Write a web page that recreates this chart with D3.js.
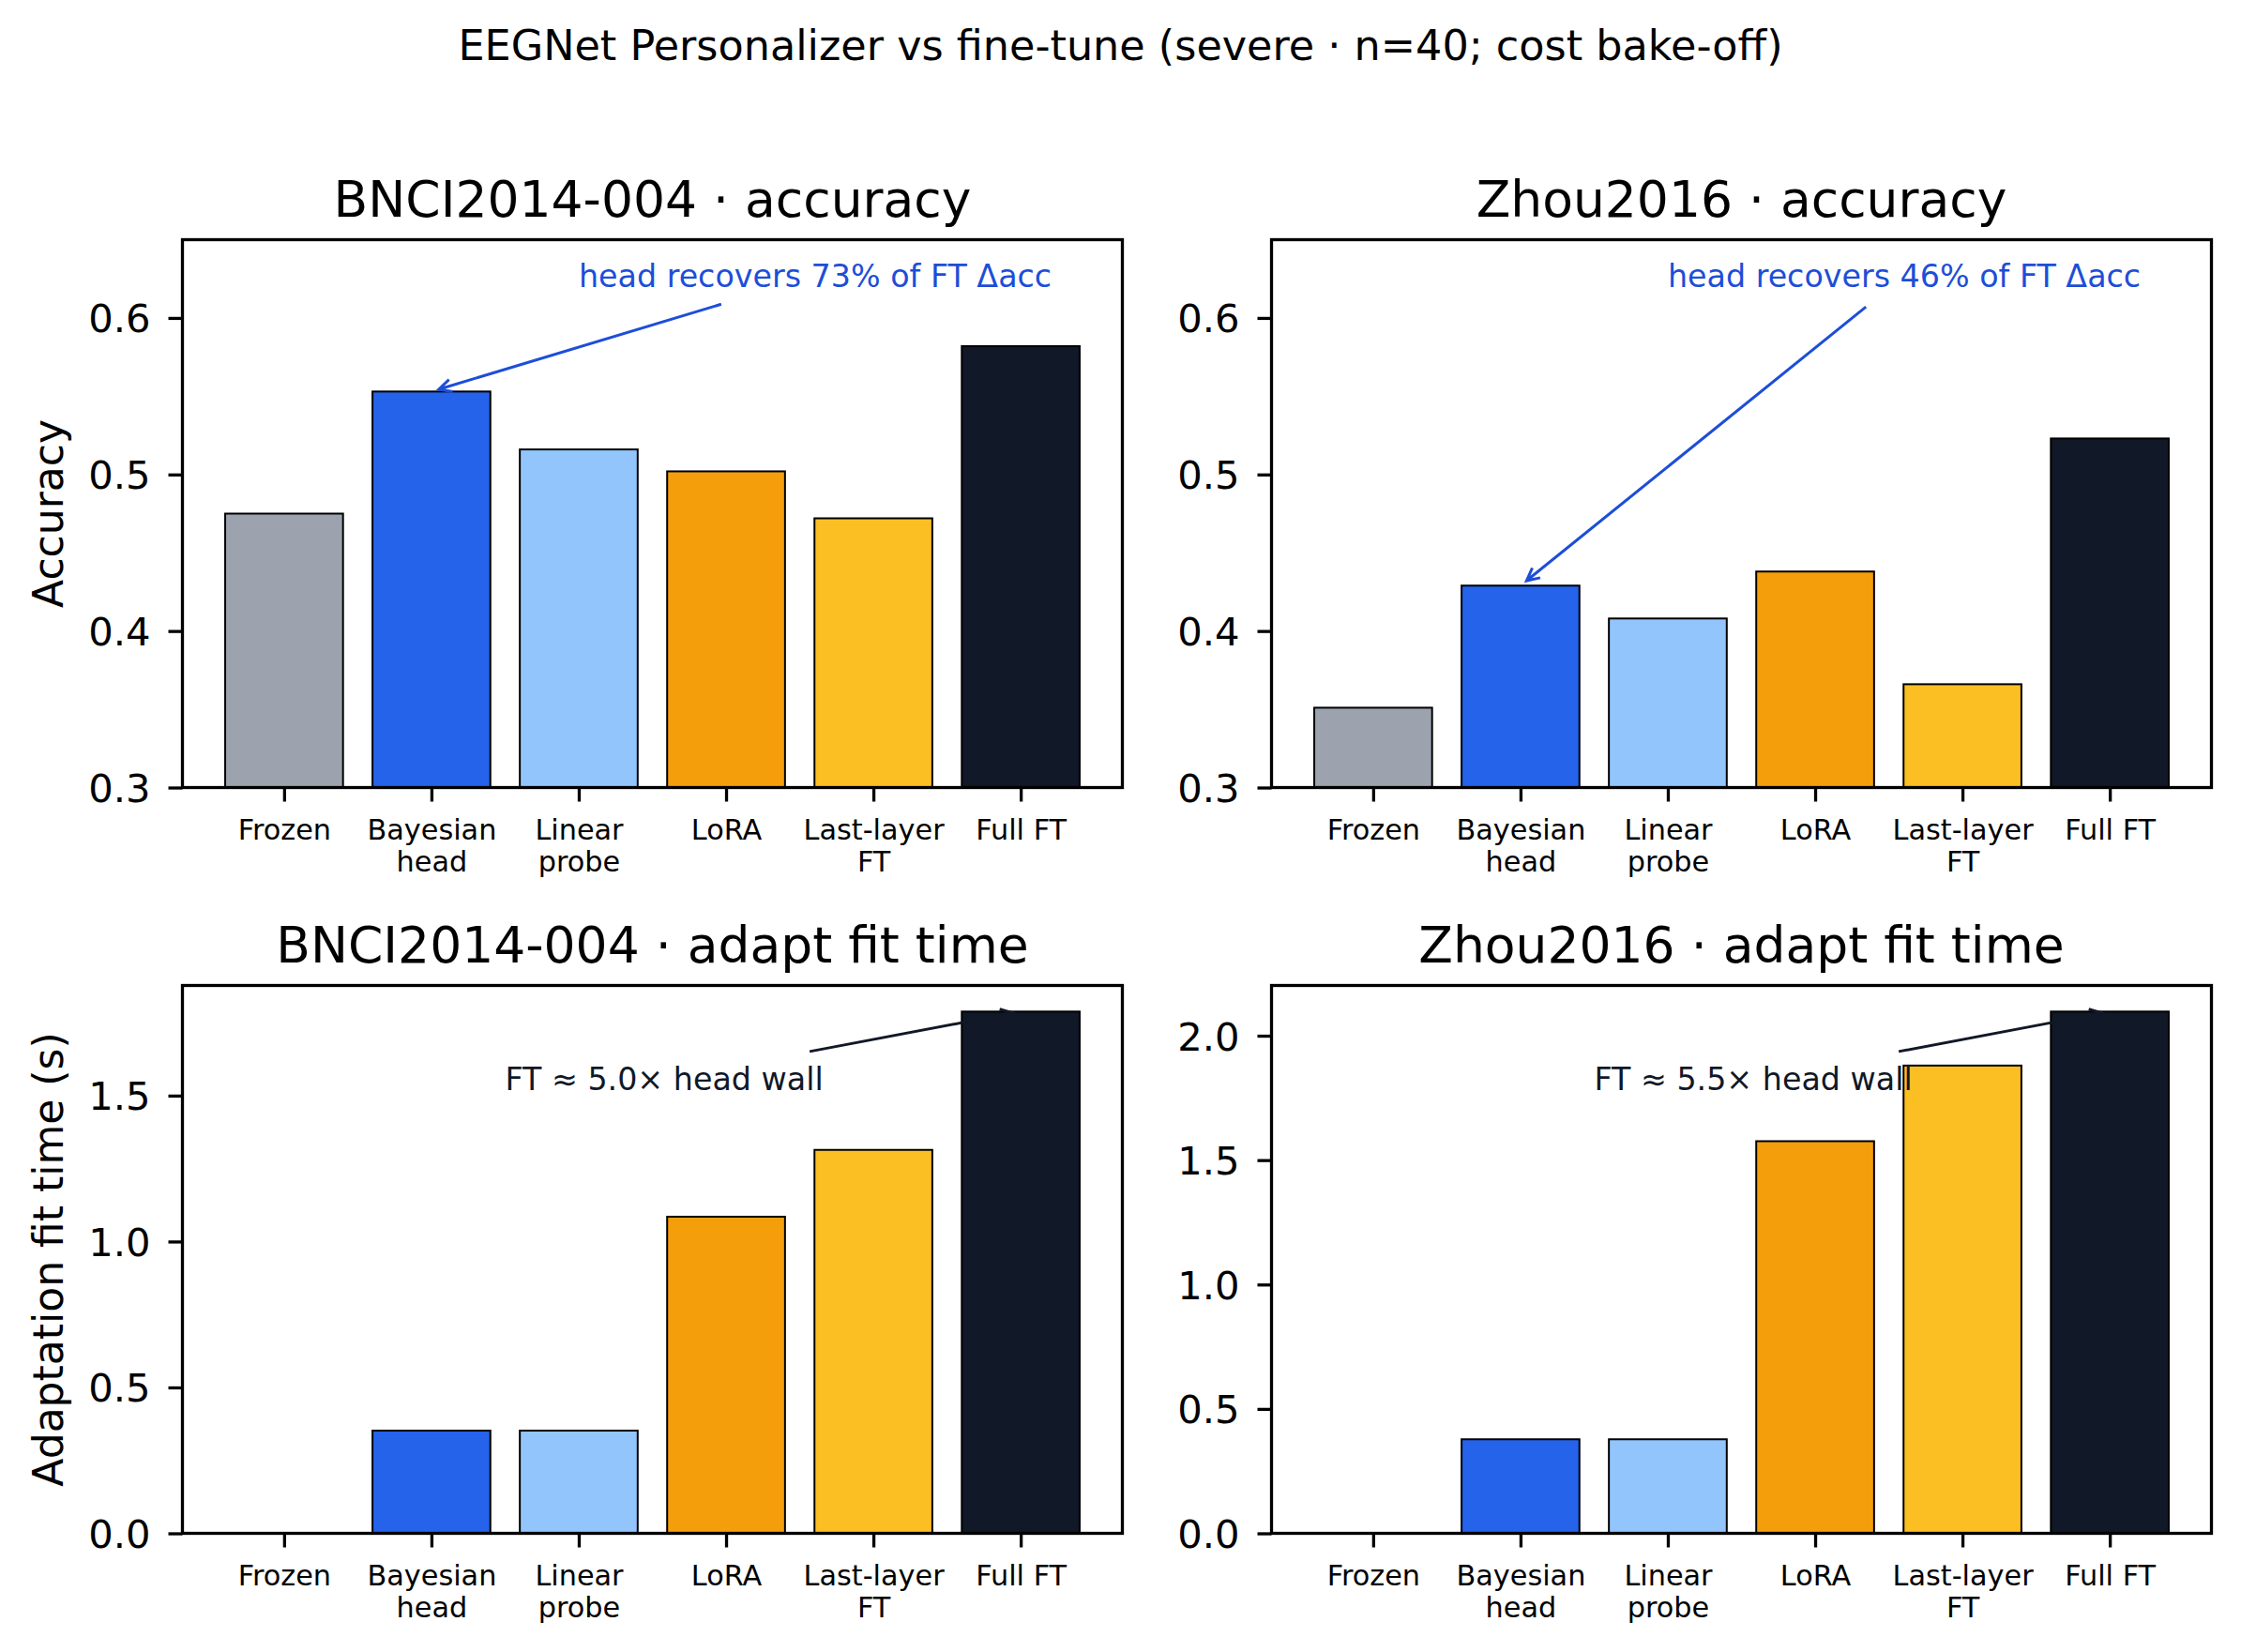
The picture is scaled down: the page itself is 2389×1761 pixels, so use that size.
<!DOCTYPE html>
<html><head><meta charset="utf-8">
<script src="https://cdn.jsdelivr.net/npm/d3@7"></script>
<style>body{margin:0;background:#fff} svg{display:block}</style>
</head><body><div id="chart"></div>
<script>
// ---------- data ----------
const categories = ["Frozen", "Bayesian\nhead", "Linear\nprobe", "LoRA", "Last-layer\nFT", "Full FT"];
const barColors = ["#9ca3af", "#2563eb", "#93c5fd", "#f59e0b", "#fbbf24", "#111827"];
const accBNCI = [0.475, 0.553, 0.516, 0.502, 0.472, 0.582];
const accZhou = [0.351, 0.429, 0.408, 0.438, 0.366, 0.523];
const timeBNCI = [0.0, 0.352, 0.352, 1.085, 1.314, 1.788];
const timeZhou = [0.0, 0.378, 0.378, 1.576, 1.880, 2.097];
const accTicks = [0.3, 0.4, 0.5, 0.6];
const timeTicksBNCI = [0.0, 0.5, 1.0, 1.5];
const timeTicksZhou = [0.0, 0.5, 1.0, 1.5, 2.0];
const panelTitles = ["BNCI2014-004 · accuracy", "Zhou2016 · accuracy", "BNCI2014-004 · adapt fit time", "Zhou2016 · adapt fit time"];
const annotationTexts = ["head recovers 73% of FT Δacc", "head recovers 46% of FT Δacc", "FT ≈ 5.0× head wall", "FT ≈ 5.5× head wall"];
const yLabels = ["Accuracy", "", "Adaptation fit time (s)", ""];
const suptitle = "EEGNet Personalizer vs fine-tune (severe · n=40; cost bake-off)";

// ---------- layout ----------
const W = 2389, H = 1761;
const FONT = "DejaVu Sans, Verdana, sans-serif";
const cols = [[194.5, 1196.5], [1355.5, 2357.5]];
const rows = [[255.5, 839.5], [1050.5, 1634.5]];

const svg = d3.select("#chart").append("svg").attr("width", W).attr("height", H)
  .style("font-family", FONT);
svg.append("rect").attr("width", W).attr("height", H).attr("fill", "#fff");

svg.append("text").attr("x", W / 2).attr("y", 64).attr("text-anchor", "middle")
  .attr("font-size", 44.5).attr("fill", "#000").text(suptitle);

const panels = [
  {values: accBNCI, ticks: accTicks, domain: [0.3, 0.65], col: 0, row: 0, kind: "acc"},
  {values: accZhou, ticks: accTicks, domain: [0.3, 0.65], col: 1, row: 0, kind: "acc"},
  {values: timeBNCI, ticks: timeTicksBNCI, domain: [0, d3.max(timeBNCI) * 1.05], col: 0, row: 1, kind: "time"},
  {values: timeZhou, ticks: timeTicksZhou, domain: [0, d3.max(timeZhou) * 1.05], col: 1, row: 1, kind: "time"}
];

panels.forEach((p, pi) => {
  const [x0, x1] = cols[p.col];
  const [y0, y1] = rows[p.row];
  const x = d3.scaleLinear().domain([-0.69, categories.length - 1 + 0.69]).range([x0, x1]);
  const y = d3.scaleLinear().domain(p.domain).range([y1, y0]);
  const g = svg.append("g");

  // bars
  g.selectAll("rect.bar").data(p.values).join("rect").attr("class", "bar")
    .attr("x", (d, i) => x(i - 0.4))
    .attr("width", (d, i) => x(i + 0.4) - x(i - 0.4))
    .attr("y", d => y(d))
    .attr("height", d => y(p.domain[0]) - y(d))
    .attr("fill", (d, i) => barColors[i])
    .attr("stroke", "#000").attr("stroke-width", 2);

  // y axis
  const ya = g.append("g").attr("transform", `translate(${x0},0)`)
    .call(d3.axisLeft(y).tickValues(p.ticks).tickFormat(d3.format(".1f")).tickSize(15).tickPadding(19));
  ya.select(".domain").remove();
  ya.selectAll(".tick line").attr("stroke", "#000").attr("stroke-width", 3.3);
  ya.selectAll(".tick text").attr("font-size", 41.7).attr("font-family", FONT).attr("fill", "#000").attr("dy", "0.36em");

  // x axis
  const xa = g.append("g").attr("transform", `translate(0,${y1})`)
    .call(d3.axisBottom(x).tickValues(d3.range(categories.length)).tickFormat("").tickSize(15));
  xa.select(".domain").remove();
  xa.selectAll(".tick line").attr("stroke", "#000").attr("stroke-width", 3.3);
  xa.selectAll(".tick text").remove();
  xa.selectAll(".tick").each(function(d) {
    const lines = categories[d].split("\n");
    const t = d3.select(this).append("text").attr("text-anchor", "middle")
      .attr("font-size", 30.3).attr("font-family", FONT).attr("fill", "#000");
    lines.forEach((ln, li) => {
      t.append("tspan").attr("x", 0).attr("y", 55.5 + li * 34.3).text(ln);
    });
  });

  // spines
  g.append("rect").attr("x", x0).attr("y", y0).attr("width", x1 - x0).attr("height", y1 - y0)
    .attr("fill", "none").attr("stroke", "#000").attr("stroke-width", 3.3);

  // title
  g.append("text").attr("x", (x0 + x1) / 2).attr("y", y0 - 25).attr("text-anchor", "middle")
    .attr("font-size", 53.5).attr("fill", "#000").text(panelTitles[pi]);

  // y label
  if (yLabels[pi]) {
    g.append("text").attr("transform", `translate(66.7,${(y0 + y1) / 2}) rotate(-90)`)
      .attr("text-anchor", "middle").attr("font-size", 44).attr("fill", "#000").text(yLabels[pi]);
  }

  // annotation
  let target, textPos, color;
  if (p.kind === "acc") {
    target = [x(1), y(p.values[1])];
    textPos = [x(2.0), y(0.62)];
    color = "#1d4ed8";
  } else {
    const last = p.values.length - 1;
    target = [x(last), y(p.values[last])];
    textPos = [x(1.5), y(0.85 * p.values[last])];
    color = "#111827";
  }
  const txt = g.append("text").attr("x", textPos[0]).attr("y", textPos[1])
    .attr("font-size", 33.3).attr("fill", color).text(annotationTexts[pi]);
  const bb = txt.node().getBBox();
  const pad = 8.3;
  const cx = bb.x + bb.width / 2, cy = bb.y + bb.height / 2;
  const hw = bb.width / 2 + pad, hh = bb.height / 2 + pad;
  const dx = target[0] - cx, dy = target[1] - cy;
  const len = Math.hypot(dx, dy);
  const ux = dx / len, uy = dy / len;
  const tExit = Math.min(Math.abs(dx) > 0 ? hw / Math.abs(dx) : Infinity, Math.abs(dy) > 0 ? hh / Math.abs(dy) : Infinity);
  const sx = cx + dx * tExit + ux * 8.3, sy = cy + dy * tExit + uy * 8.3;
  const ex = target[0] - ux * 8.3, ey = target[1] - uy * 8.3;
  const hl = 13.3, hwid = 6.7;
  const bx = ex - ux * hl, by = ey - uy * hl;
  const px = -uy, py = ux;
  g.append("path")
    .attr("d", `M${sx},${sy}L${ex},${ey}M${bx + px * hwid},${by + py * hwid}L${ex},${ey}L${bx - px * hwid},${by - py * hwid}`)
    .attr("fill", "none").attr("stroke", color).attr("stroke-width", 3);
  txt.raise();
});
</script>
</body></html>
